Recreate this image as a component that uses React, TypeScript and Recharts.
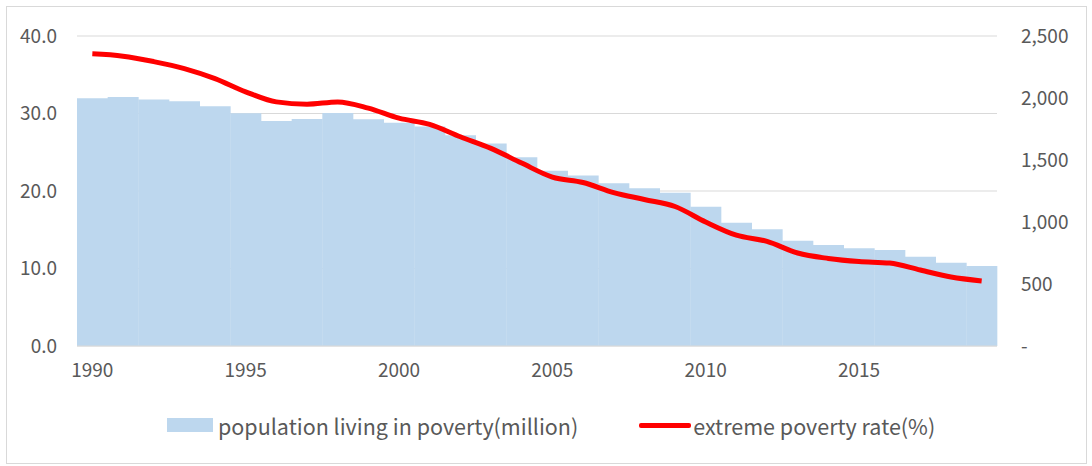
import { ComposedChart, Bar, Line, XAxis, YAxis, CartesianGrid } from "recharts";

const years = [
  "1990", "1991", "1992", "1993", "1994", "1995", "1996", "1997", "1998", "1999",
  "2000", "2001", "2002", "2003", "2004", "2005", "2006", "2007", "2008", "2009",
  "2010", "2011", "2012", "2013", "2014", "2015", "2016", "2017", "2018", "2019",
];

// people below the extreme poverty line, millions (right axis)
const populationMillion = [
  1997, 2008, 1987, 1974, 1934, 1878, 1815, 1830, 1880, 1828,
  1800, 1770, 1700, 1634, 1522, 1414, 1376, 1312, 1272, 1236,
  1123, 994, 941, 848, 815, 788, 774, 720, 672, 645,
];

// extreme poverty rate, % (left axis)
const povertyRate = [
  37.7, 37.4, 36.7, 35.8, 34.5, 32.8, 31.5, 31.2, 31.5, 30.7,
  29.4, 28.6, 27.0, 25.5, 23.6, 21.8, 21.1, 19.8, 18.9, 18.0,
  16.0, 14.3, 13.5, 12.0, 11.3, 10.9, 10.7, 9.8, 8.9, 8.4,
];

const rateTicks = [0, 10, 20, 30, 40];
const populationTicks = [0, 500, 1000, 1500, 2000, 2500];

const data = years.map((year, i) => ({
  year,
  population: populationMillion[i],
  rate: povertyRate[i],
}));

const FONT = '"Noto Sans CJK KR", "Noto Sans", sans-serif';
const TEXT = "#595959";
const BAR = "#bdd7ee";
const LINE = "#ff0000";

function formatPopulation(v: number) {
  if (v === 0) return "-";
  return v.toLocaleString("en-US");
}

export default function App() {
  const tick = { fontSize: 19, fill: TEXT, fontFamily: FONT };
  return (
    <div style={{ position: "absolute", left: 0, top: 0, width: 1092, height: 466, background: "#fff" }}>
      <div
        style={{
          position: "absolute",
          left: 6,
          top: 6,
          width: 1079,
          height: 456,
          border: "1px solid #d9d9d9",
        }}
      />
      <ComposedChart
        width={1092}
        height={466}
        data={data}
        margin={{ top: 36, right: 0, bottom: 90, left: 0 }}
        barCategoryGap={0}
        style={{ position: "absolute", left: 0, top: 0 }}
      >
        <CartesianGrid yAxisId="rate" vertical={false} stroke="#d9d9d9" strokeWidth={1} />
        <XAxis
          dataKey="year"
          interval={4}
          axisLine={{ stroke: "#d9d9d9" }}
          tickLine={false}
          tickSize={0}
          tickMargin={18}
          height={30}
          tick={tick}
        />
        <YAxis
          yAxisId="rate"
          orientation="left"
          width={77}
          domain={[0, 40]}
          ticks={rateTicks}
          tickFormatter={(v: number) => v.toFixed(1)}
          axisLine={false}
          tickLine={false}
          tickSize={0}
          tickMargin={20}
          tick={tick}
        />
        <YAxis
          yAxisId="population"
          orientation="right"
          width={95}
          domain={[0, 2500]}
          ticks={populationTicks}
          tickFormatter={formatPopulation}
          axisLine={false}
          tickLine={false}
          tickSize={0}
          tickMargin={24}
          tick={tick}
        />
        <Bar
          yAxisId="population"
          dataKey="population"
          fill={BAR}
          isAnimationActive={false}
        />
        <Line
          yAxisId="rate"
          dataKey="rate"
          type="monotone"
          stroke={LINE}
          strokeWidth={5}
          dot={false}
          isAnimationActive={false}
        />
      </ComposedChart>
      <div
        style={{
          position: "absolute",
          left: 167,
          top: 410,
          height: 30,
          display: "flex",
          alignItems: "center",
          fontFamily: FONT,
          fontSize: 21.5,
          color: TEXT,
          whiteSpace: "nowrap",
        }}
      >
        <span style={{ display: "inline-block", width: 46, height: 14, background: BAR, marginRight: 5 }} />
        <span>population living in poverty(million)</span>
        <span style={{ display: "inline-block", width: 52, height: 5, background: LINE, marginLeft: 61, marginRight: 2, borderRadius: 2 }} />
        <span>extreme poverty rate(%)</span>
      </div>
    </div>
  );
}
